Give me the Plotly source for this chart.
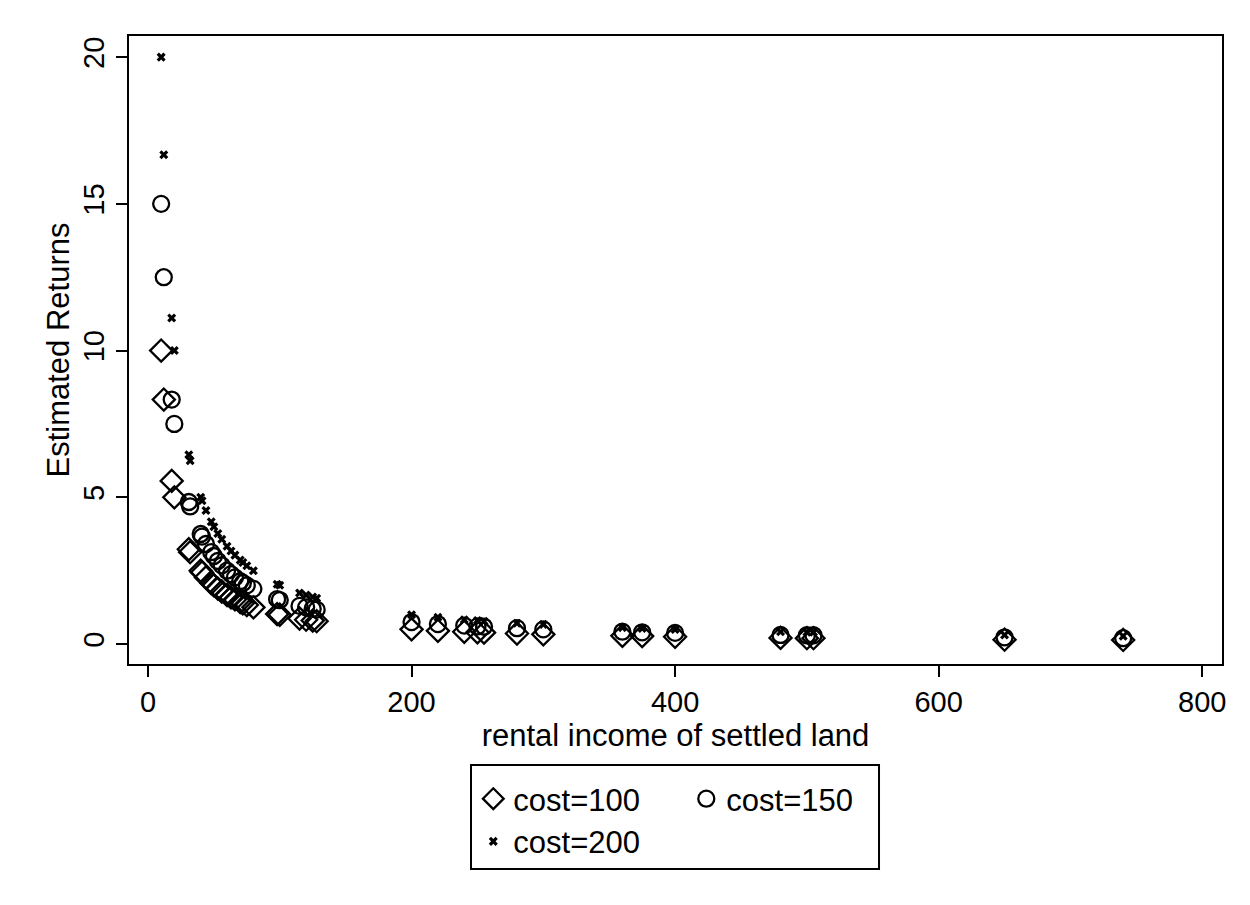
import plotly.graph_objects as go

# rental income of settled land (x) shared by all three series
rental_income = [10, 12, 18, 20, 31, 32, 40, 41, 44, 48, 50, 53, 56, 60, 63, 66, 70, 72, 75, 80,
                 98, 100, 115, 120, 125, 128, 200, 220, 240, 250, 255, 280, 300, 360, 375, 400,
                 480, 500, 505, 650, 740]

returns_cost100 = [10.0, 8.33, 5.56, 5.0, 3.23, 3.13, 2.5, 2.44, 2.27, 2.08, 2.0, 1.89, 1.79, 1.67,
                   1.59, 1.52, 1.43, 1.39, 1.33, 1.25, 1.02, 1.0, 0.87, 0.83, 0.8, 0.78, 0.5, 0.45,
                   0.42, 0.4, 0.39, 0.36, 0.33, 0.28, 0.27, 0.25, 0.21, 0.2, 0.2, 0.15, 0.14]

returns_cost150 = [15.0, 12.5, 8.33, 7.5, 4.84, 4.69, 3.75, 3.66, 3.41, 3.13, 3.0, 2.83, 2.68, 2.5,
                   2.38, 2.27, 2.14, 2.08, 2.0, 1.88, 1.53, 1.5, 1.3, 1.25, 1.2, 1.17, 0.75, 0.68,
                   0.63, 0.6, 0.59, 0.54, 0.5, 0.42, 0.4, 0.38, 0.31, 0.3, 0.3, 0.23, 0.2]

returns_cost200 = [20.0, 16.67, 11.11, 10.0, 6.45, 6.25, 5.0, 4.88, 4.55, 4.17, 4.0, 3.77, 3.57, 3.33,
                   3.17, 3.03, 2.86, 2.78, 2.67, 2.5, 2.04, 2.0, 1.74, 1.67, 1.6, 1.56, 1.0, 0.91,
                   0.83, 0.8, 0.78, 0.71, 0.67, 0.56, 0.53, 0.5, 0.42, 0.4, 0.4, 0.31, 0.27]

series_names = ["cost=100", "cost=150", "cost=200"]
x_ticks = [0, 200, 400, 600, 800]
y_ticks = [0, 5, 10, 15, 20]

FONT = "Liberation Sans"
FS = 29
FS_TITLE = 31

fig = go.Figure()
fig.add_trace(go.Scatter(
    x=rental_income, y=returns_cost100, mode="markers", name=series_names[0],
    marker=dict(symbol="diamond-open", size=17, color="black", line=dict(width=2.3, color="black")),
    legend="legend"))
fig.add_trace(go.Scatter(
    x=rental_income, y=returns_cost150, mode="markers", name=series_names[1],
    marker=dict(symbol="circle-open", size=16, color="black", line=dict(width=2.3, color="black")),
    legend="legend"))
fig.add_trace(go.Scatter(
    x=rental_income, y=returns_cost200, mode="markers", name=series_names[2],
    marker=dict(symbol="x", size=8, color="black", line=dict(width=0)),
    legend="legend2"))

axis_common = dict(
    showgrid=False, zeroline=False, showline=True, linecolor="black", linewidth=2,
    mirror=True, ticks="outside", ticklen=11, tickwidth=1.5, tickcolor="black",
    tickfont=dict(family=FONT, size=FS, color="black"),
)

fig.update_xaxes(
    **axis_common, range=[-14.4, 815], tickvals=x_ticks,
    title=dict(text="rental income of settled land", font=dict(family=FONT, size=FS_TITLE, color="black"),
               standoff=6))
fig.update_yaxes(
    **axis_common, range=[-0.68, 20.72], tickvals=y_ticks, tickangle=-90,
    title=dict(text="Estimated Returns", font=dict(family=FONT, size=FS_TITLE, color="black"),
               standoff=0))

legend_common = dict(
    orientation="h", xref="paper", yref="paper", xanchor="left", yanchor="middle",
    font=dict(family=FONT, size=FS_TITLE, color="black"), bgcolor="rgba(0,0,0,0)",
    borderwidth=0, entrywidth=168, entrywidthmode="pixels", itemclick=False,
)

fig.update_layout(
    width=1250, height=905,
    margin=dict(l=129, r=28, t=36, b=241),
    paper_bgcolor="white", plot_bgcolor="white",
    font=dict(family=FONT, size=FS, color="black"),
    legend=dict(**legend_common, x=0.315, y=-0.215),
    legend2=dict(**legend_common, x=0.315, y=-0.283),
    shapes=[dict(type="rect", xref="paper", yref="paper",
                 x0=0.3129, x1=0.6862, y0=-0.1608, y1=-0.3264,
                 line=dict(color="black", width=2), fillcolor="rgba(0,0,0,0)")],
)

fig.write_html("out.html")
